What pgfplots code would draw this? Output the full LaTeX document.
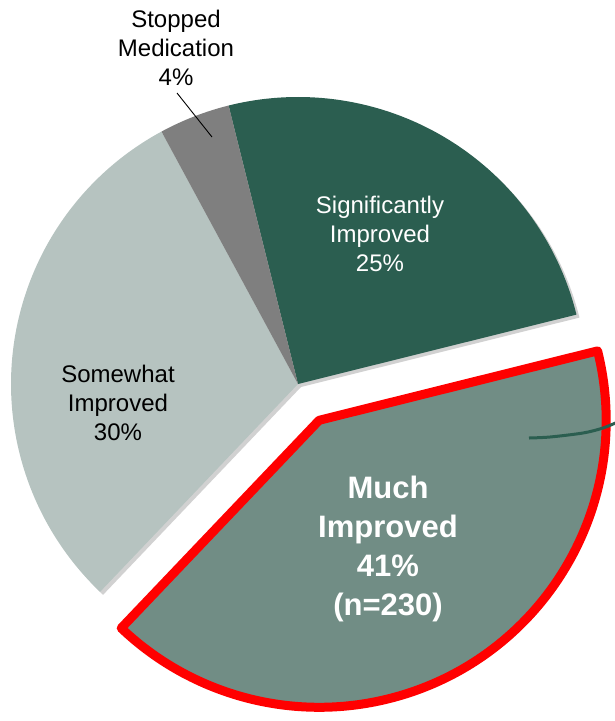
\documentclass[border=0pt]{standalone}
\usepackage{pgfplots}
\pgfplotsset{compat=1.18}
\usepackage{fontspec}
\setmainfont{Liberation Sans}
\definecolor{sigc}{HTML}{2B5E50}
\definecolor{muchc}{HTML}{718D85}
\definecolor{somec}{HTML}{B6C3C0}
\definecolor{stopc}{HTML}{7F7F7F}
\definecolor{redc}{HTML}{FF0000}
% data (percent)
\def\vSig{25}\def\vMuch{41}\def\vSome{30}\def\vStop{4}
\def\cx{298}\def\cy{384}\def\R{287}\def\expl{42}
\pgfmathsetmacro\aA{104}
\pgfmathsetmacro\aB{\aA-3.6*\vSig}
\pgfmathsetmacro\aC{\aB-3.6*\vMuch}
\pgfmathsetmacro\aD{\aC-3.6*\vSome}
\pgfmathsetmacro\aE{\aD-3.6*\vStop}
\pgfmathsetmacro\aM{(\aB+\aC)/2}
\begin{document}
\begin{tikzpicture}
\begin{axis}[at={(0,0)},anchor=south west,scale only axis,
  width=615pt,height=721pt,xmin=0,xmax=615,ymin=0,ymax=721,
  y dir=reverse,hide axis,clip=true]
% shadows
\fill[black,opacity=0.18,xshift=3pt,yshift=-3pt] (axis cs:\cx,\cy) -- ++(\aA:\R pt) arc[start angle=\aA,end angle=\aB,radius=\R pt] -- cycle;
\fill[black,opacity=0.18,xshift=3pt,yshift=-3pt] (axis cs:\cx,\cy) -- ++(\aC:\R pt) arc[start angle=\aC,end angle=\aE,radius=\R pt] -- cycle;
\fill[black,opacity=0.18,xshift=3pt,yshift=-3pt] ([shift={(\aM:\expl pt)}]axis cs:\cx,\cy) -- ++(\aB:\R pt) arc[start angle=\aB,end angle=\aC,radius=\R pt] -- cycle;
% slices
\fill[sigc] (axis cs:\cx,\cy) -- ++(\aA:\R pt) arc[start angle=\aA,end angle=\aB,radius=\R pt] -- cycle;
\fill[somec] (axis cs:\cx,\cy) -- ++(\aC:\R pt) arc[start angle=\aC,end angle=\aD,radius=\R pt] -- cycle;
\fill[stopc] (axis cs:\cx,\cy) -- ++(\aD:\R pt) arc[start angle=\aD,end angle=\aE,radius=\R pt] -- cycle;
\filldraw[fill=muchc,draw=redc,line width=9pt,line join=round] ([shift={(\aM:\expl pt)}]axis cs:\cx,\cy) -- ++(\aB:\R pt) arc[start angle=\aB,end angle=\aC,radius=\R pt] -- cycle;
% stray callout line
\addplot[sigc,line width=3pt,smooth,no marks] coordinates {(529,438) (550,437) (583,433) (603,428) (620,421)};
% leader line
\addplot[black,line width=0.9pt,no marks] coordinates {(177,93) (212,137)};
% labels
\node[align=center,text=black,font=\fontsize{24}{29}\selectfont] at (axis cs:176,48) {Stopped\\Medication\\4\%};
\node[align=center,text=white,font=\fontsize{24}{29}\selectfont] at (axis cs:380,234) {Significantly\\Improved\\25\%};
\node[align=center,text=black,font=\fontsize{24}{29}\selectfont] at (axis cs:118,403) {Somewhat\\Improved\\30\%};
\node[align=center,text=white,font=\bfseries\fontsize{31}{38.7}\selectfont] at (axis cs:388,549) {Much\\Improved\\41\%\\(n=230)};
\end{axis}
\pgfresetboundingbox
\path[use as bounding box] (0,0) rectangle (615pt,721pt);
\end{tikzpicture}
\end{document}
